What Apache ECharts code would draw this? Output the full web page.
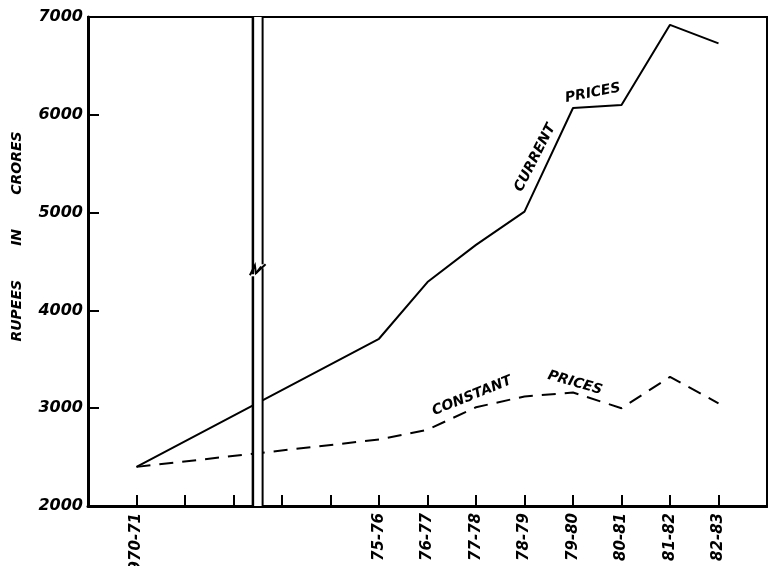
<!DOCTYPE html>
<html>
<head>
<meta charset="utf-8">
<script src="https://cdn.jsdelivr.net/npm/echarts@6/dist/echarts.min.js"></script>
<style>
    html, body { margin: 0; padding: 0; background: #fff; }
    #chart { width: 768px; height: 566px; }
</style>
</head>
<body>
<div id="chart"></div>
<script>
    // position on the axis (one step per year), labels only where the drawing has them
    var tickLabels = ['1970-71', '', '', '', '', '75-76', '76-77', '77-78', '78-79', '79-80', '80-81', '81-82', '82-83'];
    var years = [0, 5, 6, 7, 8, 9, 10, 11, 12];
    var currentPrices = [2400, 3710, 4290, 4670, 5010, 6070, 6100, 6920, 6730];
    var constantPrices = [2400, 2680, 2780, 3010, 3120, 3160, 3000, 3320, 3050];
    var yTicks = [2000, 3000, 4000, 5000, 6000, 7000];

    var handFont = '"DejaVu Sans", sans-serif';

    function pairs(xs, ys) {
        var out = [];
        for (var i = 0; i < xs.length; i++) out.push([xs[i], ys[i]]);
        return out;
    }

    var myChart = echarts.init(document.getElementById('chart'));

    var option = {
        animation: false,
        backgroundColor: '#fff',
        grid: {
            left: 88, right: 1, top: 17, bottom: 60,
            outerBoundsMode: 'none',
            show: true, borderColor: '#000', borderWidth: 2
        },
        xAxis: {
            type: 'value',
            min: -1, max: 13, interval: 1,
            splitLine: { show: false },
            axisLine: { onZero: false, lineStyle: { color: '#000', width: 3 } },
            axisTick: { inside: true, length: 11, lineStyle: { color: '#000', width: 2 } },
            axisLabel: {
                rotate: 90, margin: 7,
                color: '#000', fontFamily: handFont, fontSize: 15,
                fontWeight: 'bold', fontStyle: 'italic',
                showMinLabel: false, showMaxLabel: false,
                formatter: function (v) { return tickLabels[v] || ''; }
            }
        },
        yAxis: {
            type: 'value',
            min: yTicks[0], max: yTicks[yTicks.length - 1], interval: 1000,
            name: 'RUPEES       IN       CRORES',
            nameLocation: 'middle', nameGap: 64,
            nameTextStyle: {
                color: '#000', fontFamily: handFont, fontSize: 14, fontWeight: 'bold', fontStyle: 'italic',
                padding: [0, 0, 0, 50]
            },
            splitLine: { show: false },
            axisLine: { onZero: false, lineStyle: { color: '#000', width: 3 } },
            axisTick: { inside: true, length: 11, lineStyle: { color: '#000', width: 2 } },
            axisLabel: {
                margin: 5, color: '#000', fontFamily: handFont, fontSize: 16,
                fontWeight: 'bold', fontStyle: 'italic',
                formatter: function (v) { return String(v); }
            }
        },
        series: [
            {
                name: 'Current prices',
                type: 'line',
                data: pairs(years, currentPrices),
                symbol: 'none',
                lineStyle: { color: '#000', width: 2 },
                z: 3
            },
            {
                name: 'Constant prices',
                type: 'line',
                data: pairs(years, constantPrices),
                symbol: 'none',
                lineStyle: { color: '#000', width: 2, type: [14, 9] },
                z: 3
            }
        ]
    };

    myChart.setOption(option);

    // axis break, hand lettered captions
    function px(x, y) { return myChart.convertToPixel({ gridIndex: 0 }, [x, y]); }

    function caption(text, x, y, deg) {
        var p = px(x, y);
        return {
            type: 'text', x: p[0], y: p[1], rotation: deg * Math.PI / 180, z: 120,
            style: {
                text: text, fill: '#000', align: 'center', verticalAlign: 'middle',
                font: 'italic bold 14px ' + handFont
            }
        };
    }

    function drawExtras() {
        var yTop = px(2.5, 7000)[1], yBot = px(2.5, 2000)[1];
        var bl = px(2.4, 2000)[0], br = px(2.6, 2000)[0];
        var zy = px(2.5, 4410)[1];
        myChart.setOption({
            graphic: [
                { type: 'rect', z: 100, shape: { x: bl, y: yTop, width: br - bl, height: yBot - yTop }, style: { fill: '#fff' } },
                { type: 'line', z: 110, shape: { x1: bl, y1: yTop, x2: bl, y2: zy + 4 }, style: { stroke: '#000', lineWidth: 2.5 } },
                { type: 'line', z: 110, shape: { x1: bl, y1: zy + 6, x2: bl, y2: yBot }, style: { stroke: '#000', lineWidth: 2.5 } },
                { type: 'line', z: 110, shape: { x1: br, y1: yTop, x2: br, y2: zy - 6 }, style: { stroke: '#000', lineWidth: 2 } },
                { type: 'line', z: 110, shape: { x1: br, y1: zy - 2, x2: br, y2: yBot }, style: { stroke: '#000', lineWidth: 2 } },
                { type: 'polyline', z: 115, shape: { points: [[bl - 3, zy + 5], [bl + 2, zy - 5], [bl + 3, zy + 3], [br + 3, zy - 6]] }, style: { stroke: '#000', lineWidth: 2, fill: null } },
                { type: 'polyline', z: 115, shape: { points: [[bl + 3, zy + 3], [br - 2, zy - 3], [br, zy - 2]] }, style: { stroke: '#000', lineWidth: 2, fill: null } },
                caption('CURRENT', 8.22, 5560, 63),
                caption('PRICES', 9.41, 6223, 11),
                caption('CONSTANT', 6.92, 3125, 22),
                caption('PRICES', 9.04, 3258, -16)
            ]
        });
    }
    drawExtras();
</script>
</body>
</html>
